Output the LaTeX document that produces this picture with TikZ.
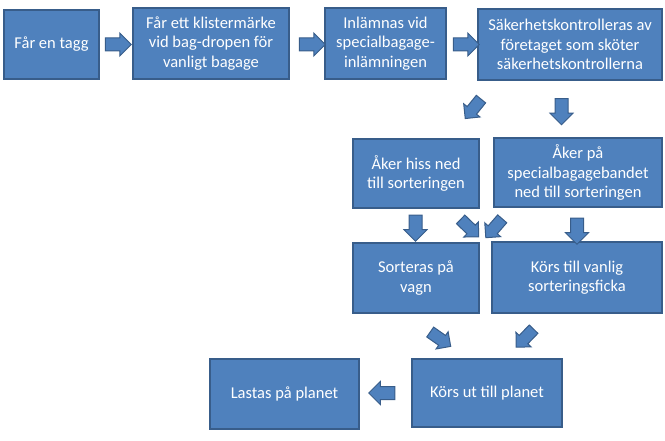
\documentclass[tikz,border=0pt]{standalone}
\usepackage{fontspec}
\setmainfont{Carlito}
\usetikzlibrary{shapes.arrows}
\definecolor{boxfill}{HTML}{4F81BD}
\definecolor{boxline}{HTML}{385D8A}
\tikzset{
  box/.style={rectangle, fill=boxfill, draw=boxline, line width=1.5pt, text=white,
    align=center, inner sep=2pt, font=\fontsize{16.5}{19.5}\selectfont},
  blk/.style={single arrow, fill=boxfill, draw=boxline, line width=1pt,
    minimum height=26, inner xsep=0pt, inner ysep=6pt, single arrow head extend=5},
  dblk/.style={blk, minimum height=25, inner ysep=5.5pt, single arrow head extend=4.5}
}
\begin{document}
\begin{tikzpicture}[x=1pt,y=-1pt]
\useasboundingbox (0,0) rectangle (665,441);
% boxes
\node[box, minimum width=95, minimum height=69] (b1) at (51.5,44.5) {Får en tagg};
\node[box, minimum width=156, minimum height=71] (b2) at (211,43.5) {Får ett klistermärke\\vid bag-dropen för\\vanligt bagage};
\node[box, minimum width=121, minimum height=71] (b3) at (385.5,43.5) {Inlämnas vid\\specialbagage-\\inlämningen};
\node[box, minimum width=184, minimum height=71] (b4) at (570,44.5) {Säkerhetskontrolleras av\\företaget som sköter\\säkerhetskontrollerna};
\node[box, minimum width=126, minimum height=69] (b5) at (416,173.5) {Åker hiss ned\\till sorteringen};
\node[box, minimum width=168, minimum height=69] (b6) at (578,172.5) {Åker på\\specialbagagebandet\\ned till sorteringen};
\node[box, minimum width=126, minimum height=70] (b7) at (416,278) {Sorteras på\\vagn};
\node[box, minimum width=170, minimum height=71] (b8) at (577,277.5) {Körs till vanlig\\sorteringsficka};
\node[box, minimum width=150, minimum height=68] (b9) at (487,393) {Körs ut till planet};
\node[box, minimum width=149, minimum height=70] (b10) at (284.5,394) {Lastas på planet};
% block arrows
\node[blk] (a1) at (115,44.5) {};
\node[blk] (a2) at (309,44.5) {};
\node[blk] (a3) at (463,44.5) {};
\node[dblk, rotate=-129] (a4) at (475,106.5) {};
\node[blk, rotate=-90] (a5) at (561.5,108.5) {};
\node[blk, rotate=-90] (a6) at (415.5,225) {};
\node[dblk, rotate=-44] (a7) at (467.5,226) {};
\node[dblk, rotate=-131] (a8) at (496,226) {};
\node[blk, rotate=-90] (a9) at (577,228) {};
\node[dblk, rotate=-35] (a10) at (438,337.5) {};
\node[dblk, rotate=-134] (a11) at (527,336) {};
\node[blk, rotate=180] (a12) at (385,393) {};
\end{tikzpicture}
\end{document}
